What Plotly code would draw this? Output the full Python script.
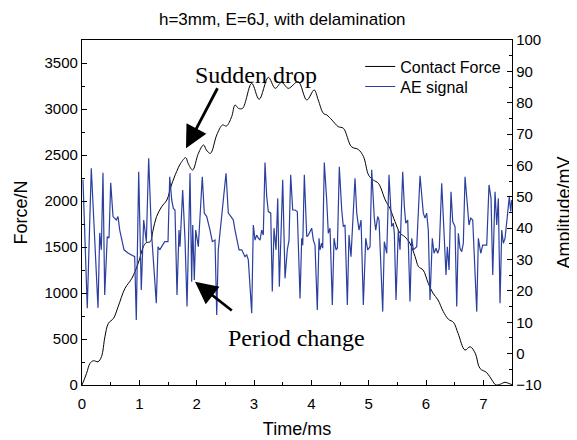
import plotly.graph_objects as go

# Contact force (N) vs time (ms)
force_t = [0.00, 0.08, 0.14, 0.20, 0.28, 0.34, 0.40, 0.46, 0.55, 0.63, 0.75, 0.87, 0.98, 1.07, 1.12, 1.19,
           1.24, 1.30, 1.39, 1.48, 1.56, 1.65, 1.72, 1.81, 1.85, 1.93, 2.03, 2.12, 2.17, 2.24, 2.35, 2.45,
           2.52, 2.61, 2.67, 2.73, 2.80, 2.96, 3.09, 3.25, 3.37, 3.48, 3.60, 3.77, 3.92, 4.05, 4.12, 4.21,
           4.27, 4.36, 4.47, 4.56, 4.70, 4.82, 4.91, 5.00, 5.08, 5.17, 5.29, 5.37, 5.46, 5.55, 5.63, 5.72,
           5.81, 5.87, 5.95, 6.04, 6.12, 6.21, 6.30, 6.39, 6.48, 6.56, 6.68, 6.77, 6.86, 6.94, 7.06, 7.15,
           7.22, 7.30, 7.38, 7.45, 7.50]
force_N = [0, 127, 236, 264, 253, 308, 525, 670, 725, 851, 1051, 1160, 1323, 1503, 1547, 1558,
           1685, 1830, 1938, 2011, 2174, 2319, 2410, 2471, 2410, 2337, 2518, 2609, 2554, 2518, 2717, 2826,
           2815, 2916, 3043, 3007, 3007, 3279, 3105, 3344, 3225, 3290, 3225, 3297, 3098, 3207, 3098, 2953,
           2935, 2880, 2808, 2790, 2590, 2560, 2482, 2280, 2228, 2192, 2011, 1920, 1775, 1649, 1612, 1540,
           1395, 1286, 1250, 1105, 1000, 924, 800, 715, 680, 560, 380, 416, 344, 181, 134, 54,
           0, 10, 30, 15, 5]

# AE signal amplitude (mV) vs time (ms)
ae_t = [0.017, 0.092, 0.162, 0.204, 0.279, 0.309, 0.337, 0.366, 0.396, 0.441, 0.471, 0.501, 0.541, 0.598,
        0.628, 0.658, 0.686, 0.733, 0.802, 0.860, 0.919, 0.947, 0.989, 1.034, 1.076, 1.122, 1.163, 1.209,
        1.296, 1.326, 1.355, 1.443, 1.500, 1.530, 1.565, 1.593, 1.622, 1.657, 1.692, 1.709, 1.756, 1.797,
        1.832, 1.884, 1.913, 1.931, 1.959, 1.983, 2.011, 2.029, 2.098, 2.133, 2.175, 2.193, 2.233, 2.273,
        2.320, 2.350, 2.377, 2.512, 2.552, 2.599, 2.639, 2.669, 2.698, 2.739, 2.786, 2.843, 2.873, 2.901,
        2.960, 2.988, 3.018, 3.047, 3.075, 3.105, 3.134, 3.162, 3.192, 3.222, 3.250, 3.292, 3.319, 3.349,
        3.384, 3.414, 3.442, 3.501, 3.541, 3.581, 3.611, 3.640, 3.675, 3.715, 3.755, 3.803, 3.832, 3.850,
        3.878, 3.920, 3.947, 4.006, 4.035, 4.064, 4.104, 4.134, 4.151, 4.181, 4.198, 4.226, 4.268, 4.296,
        4.326, 4.366, 4.396, 4.431, 4.454, 4.488, 4.530, 4.558, 4.587, 4.628, 4.657, 4.692, 4.762, 4.792,
        4.832, 4.867, 4.907, 4.949, 4.983, 5.024, 5.053, 5.098, 5.123, 5.158, 5.181, 5.245, 5.273, 5.315,
        5.355, 5.402, 5.430, 5.448, 5.477, 5.517, 5.547, 5.594, 5.622, 5.647, 5.681, 5.721, 5.751, 5.779,
        5.838, 5.896, 5.953, 5.983, 6.012, 6.040, 6.070, 6.110, 6.140, 6.175, 6.204, 6.232, 6.274, 6.302,
        6.349, 6.372, 6.402, 6.436, 6.466, 6.506, 6.536, 6.564, 6.593, 6.623, 6.651, 6.681, 6.721, 6.750,
        6.780, 6.815, 6.885, 6.913, 6.955, 6.989, 7.059, 7.099, 7.134, 7.164, 7.204, 7.234, 7.262, 7.291,
        7.321, 7.349, 7.379, 7.453, 7.478, 7.495]
ae_mV = [55.4, 14.5, 59.1, 43.7, 14.6, 38.5, 33.1, 57.7, 18.7, 37.3, 36.9, 54.5, 43.7, 42.6,
         43.7, 39.4, 37.3, 33.1, 32.1, 31.5, 30.9, 10.7, 58.0, 20.3, 42.6, 35.7, 62.3, 39.4,
         16.1, 34.1, 33.1, 35.7, 35.7, 56.4, 49.0, 46.3, 45.8, 18.7, 39.4, 34.1, 52.2, 36.2,
         15.0, 57.5, 22.9, 41.0, 23.5, 39.4, 36.2, 34.1, 56.4, 44.8, 43.7, 42.6, 39.4, 35.7,
         36.2, 12.3, 33.1, 57.5, 44.8, 43.7, 42.6, 39.4, 36.8, 33.1, 33.1, 30.9, 31.5, 29.9,
         12.9, 41.0, 36.2, 37.8, 36.8, 36.2, 39.4, 37.8, 60.9, 50.0, 45.3, 44.8, 19.8, 40.0,
         33.1, 49.5, 21.3, 55.4, 24.0, 33.1, 36.2, 57.0, 45.8, 45.8, 45.3, 17.6, 36.8, 34.6,
         57.0, 37.3, 37.8, 40.0, 36.2, 34.6, 13.9, 36.8, 33.1, 35.2, 33.6, 60.9, 49.0, 38.4,
         40.0, 15.5, 36.8, 33.1, 33.6, 59.6, 45.8, 40.5, 41.0, 15.5, 37.8, 30.9, 55.9, 44.8,
         39.4, 42.6, 15.5, 36.8, 33.1, 34.1, 58.6, 43.2, 39.4, 43.7, 42.6, 13.4, 35.7, 32.0,
         57.0, 40.5, 41.6, 38.4, 17.1, 39.4, 33.1, 58.0, 46.9, 41.6, 42.6, 16.6, 36.8, 33.1,
         34.1, 56.7, 44.8, 43.2, 44.8, 39.4, 17.1, 36.8, 32.0, 33.6, 32.0, 33.6, 54.3, 43.7,
         25.1, 34.1, 26.7, 51.6, 42.1, 40.5, 15.0, 38.4, 33.6, 32.5, 35.2, 56.4, 45.8, 41.0,
         43.2, 42.6, 13.4, 36.8, 32.0, 34.6, 34.6, 53.8, 49.5, 25.1, 51.6, 41.0, 49.5, 16.1,
         39.4, 35.2, 36.8, 50.0, 45.3, 49.0]

x_ticks = [0, 1, 2, 3, 4, 5, 6, 7]
force_ticks = [0, 500, 1000, 1500, 2000, 2500, 3000, 3500]
amp_ticks = [-10, 0, 10, 20, 30, 40, 50, 60, 70, 80, 90, 100]

FONT = "Arial, Liberation Sans, sans-serif"
SERIF = "Times New Roman, Liberation Serif, serif"
BLUE = "#2b3f9f"

fig = go.Figure()
fig.add_trace(go.Scatter(x=force_t, y=force_N, mode="lines", name="Contact Force", legend="legend",
                         line=dict(color="black", width=1, shape="spline", smoothing=1.0)))
fig.add_trace(go.Scatter(x=ae_t, y=ae_mV, mode="lines", name="AE signal", yaxis="y2", legend="legend2",
                         line=dict(color=BLUE, width=1.2)))

axis_common = dict(showline=True, linecolor="black", linewidth=1.3, showgrid=False, zeroline=False,
                   automargin=False,
                   ticks="inside", tickcolor="black", tickwidth=1.2, ticklen=5,
                   tickfont=dict(family=FONT, size=15, color="black"))
title_font = dict(family=FONT, size=18, color="black")
legend_common = dict(x=0.647, xanchor="left", yanchor="middle", bgcolor="rgba(0,0,0,0)",
                     font=dict(family=FONT, size=16, color="black"))

# the page body adds an 8px margin, so the figure is laid out 8px smaller
fig.update_layout(
    width=569, height=432,
    margin=dict(l=74, r=65, t=32, b=55, autoexpand=False),
    paper_bgcolor="white", plot_bgcolor="white",
    title=dict(text="h=3mm, E=6J, with delamination", x=0.482, xref="container", y=0.975,
               yanchor="middle", font=dict(family=FONT, size=17, color="black")),
    xaxis=dict(range=[0, 7.5], tickvals=x_ticks, mirror=True, ticklabelstandoff=5,
               minor=dict(ticks="inside", dtick=0.5, ticklen=3, tickcolor="black", tickwidth=1),
               title=dict(text="Time/ms", font=title_font, standoff=11),
               **axis_common),
    yaxis=dict(range=[0, 3750], tickvals=force_ticks,
               minor=dict(ticks="inside", dtick=250, ticklen=3, tickcolor="black", tickwidth=1),
               title=dict(text="Force/N", font=title_font, standoff=12),
               **axis_common),
    yaxis2=dict(range=[-10, 100], tickvals=amp_ticks, overlaying="y", side="right",
                minor=dict(ticks="inside", dtick=5, ticklen=3, tickcolor="black", tickwidth=1),
                title=dict(text="Amplitude/mV", font=title_font, standoff=16),
                **axis_common),
    legend=dict(y=0.923, **legend_common),
    legend2=dict(y=0.865, **legend_common),
    showlegend=True,
)

fig.add_annotation(x=1.814, y=2573, ax=2.377, ay=3242, xref="x", yref="y", axref="x", ayref="y",
                   text="", showarrow=True, arrowhead=2, arrowsize=1.6, arrowwidth=2.8, arrowcolor="black")
fig.add_annotation(x=3.04, y=3370, xref="x", yref="y", text="Sudden drop", showarrow=False,
                   font=dict(family=SERIF, size=24, color="black"))
fig.add_annotation(x=1.971, y=1123, ax=2.639, ay=797, xref="x", yref="y", axref="x", ayref="y",
                   text="", showarrow=True, arrowhead=2, arrowsize=1.6, arrowwidth=2.8, arrowcolor="black")
fig.add_annotation(x=3.733, y=511, xref="x", yref="y", text="Period change", showarrow=False,
                   font=dict(family=SERIF, size=24, color="black"))

fig.write_html("out.html", config={"displayModeBar": False})
